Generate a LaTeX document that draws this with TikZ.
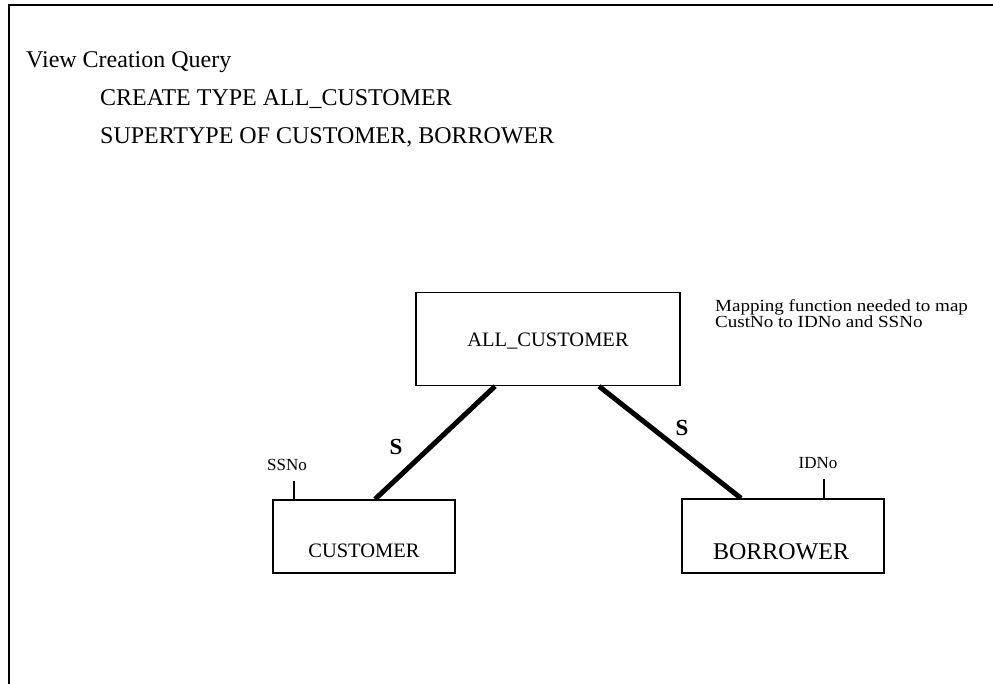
\documentclass[tikz,border=0pt]{standalone}
\usepackage{fontspec}
\setmainfont{Liberation Serif}
\newfontfamily\widefont[FakeStretch=1.12]{Liberation Serif}
\usetikzlibrary{calc}
\tikzset{
  qtext/.style={anchor=base west, inner sep=0pt, font=\fontsize{24}{28}\selectfont},
  entbox/.style={draw, line width=1.5pt, inner sep=0pt},
  entlabel/.style={inner sep=0pt},
  slink/.style={line width=5pt},
  slabel/.style={inner sep=0pt, font=\bfseries\fontsize{23}{25}\selectfont},
  attr/.style={inner sep=0pt, anchor=base, font=\fontsize{17}{19}\selectfont},
  tick/.style={line width=1.5pt}
}
\begin{document}
\begin{tikzpicture}[x=1pt,y=-1pt]
\useasboundingbox (0,0) rectangle (993,684);
\draw[line width=2.8pt] (993,5) -- (9,5) -- (9,684);

\node[qtext] (t1) at (26,68) {View Creation Query};
\node[qtext] (t2) at (100,106) {CREATE TYPE ALL\_CUSTOMER};
\node[qtext] (t3) at (100,144) {SUPERTYPE OF CUSTOMER, BORROWER};

\node[entbox, minimum width=264pt, minimum height=93pt] (allc) at (548,339) {};
\node[entlabel, font=\fontsize{20.5}{22}\selectfont] (allct) at (548,341) {ALL\_CUSTOMER};

\node[entbox, minimum width=182pt, minimum height=73pt] (cust) at (364,536.5) {};
\node[entlabel, font=\fontsize{20.5}{22}\selectfont] (custt) at (364,551) {CUSTOMER};

\node[entbox, minimum width=202pt, minimum height=74pt] (borr) at (783,536) {};
\node[entlabel, font=\fontsize{24}{26}\selectfont] (borrt) at (781,552) {BORROWER};

\node[anchor=base west, inner sep=0pt, align=left, font=\widefont\fontsize{17}{15}\selectfont] (map) at (715,328) {Mapping function needed to map\\CustNo to IDNo and SSNo};

\draw[slink] ([xshift=-53pt]allc.south) -- ([xshift=11pt]cust.north);
\draw[slink] ([xshift=51pt]allc.south) -- ([xshift=-42pt]borr.north);

\node[slabel] (s1) at (396,447) {S};
\node[slabel] (s2) at (682,428) {S};

\coordinate (ssnoend) at ($(cust.north)+(-70,-18)$);
\draw[tick] ([xshift=-70pt]cust.north) -- (ssnoend);
\node[attr] (ssno) at ($(ssnoend)+(-7,-11)$) {SSNo};

\coordinate (idnoend) at ($(borr.north)+(41,-19)$);
\draw[tick] ([xshift=41pt]borr.north) -- (idnoend);
\node[attr] (idno) at ($(idnoend)+(-6,-11)$) {IDNo};
\end{tikzpicture}
\end{document}
